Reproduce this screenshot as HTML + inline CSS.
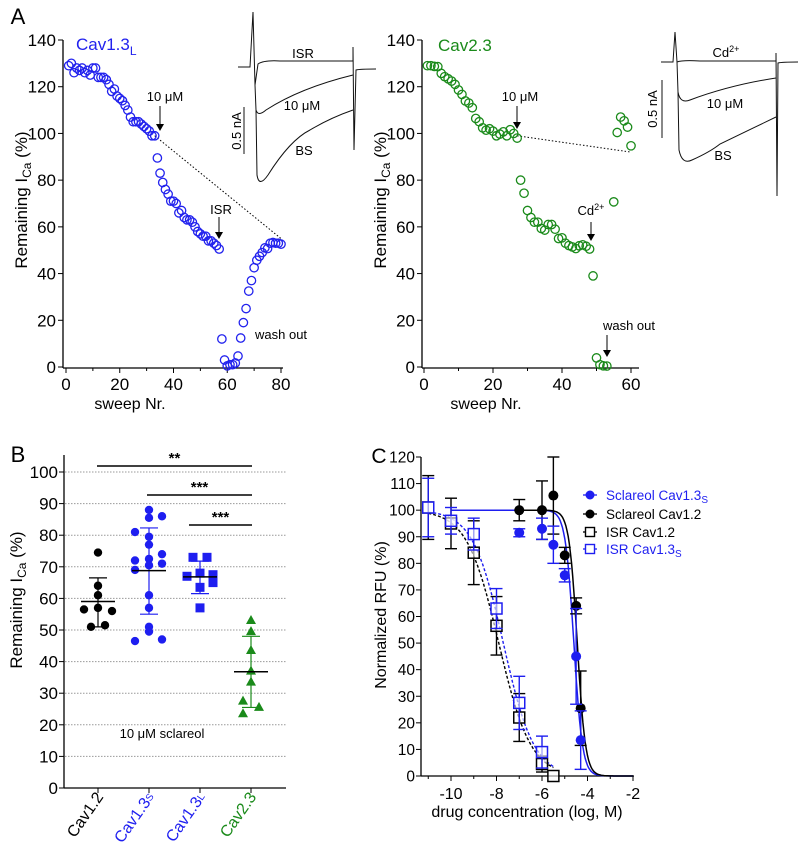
<!DOCTYPE html>
<html><head><meta charset="utf-8"><style>
html,body{margin:0;padding:0;background:#fff}
svg{display:block;font-family:"Liberation Sans",Arial,sans-serif}
</style></head><body>
<svg id="fig" width="800" height="846" viewBox="0 0 800 846" xmlns="http://www.w3.org/2000/svg">
<g id="g"></g>
</svg>
<script>
// ---------- DATA ----------
const aLeftSweeps = [1,2,3,4,5,6,7,8,9,10,11,12,13,14,15,16,17,18,19,20,21,22,23,24,25,26,27,28,29,30,31,32,33,34,35,36,37,38,39,40,41,42,43,44,45,46,47,48,49,50,51,52,53,54,55,56,57,58,59,60,61,62,63,64,65,66,67,68,69,70,71,72,73,74,75,76,77,78,79,80];
const aLeftValues = [129,130,126,128,127,128,126,127,125,128,128,124,124,124,123,121,118,119,116,115,114,112,110,107,105,105,105,104,103,102,101,99,99,89.5,83,79,76,74,71,71,70,66,67,64,63,63,62,60,58,57,56,56,54,54,53,52,50.5,12,3,0.5,1,1,1.7,4.7,12.4,19,25,32.5,37,42.5,45.7,47.4,49,51,50.7,53,53.3,53,53,52.6];
const aRightSweeps = [1,2,3,4,5,6,7,8,9,10,11,12,13,14,15,16,17,18,19,20,21,22,23,24,25,26,27,28,29,30,31,32,33,34,35,36,37,38,39,40,41,42,43,44,45,46,47,48,49,50,51,52,53,55,56,57,58,59,60];
const aRightValues = [129,129,128.7,128.6,125.7,124.3,123.4,122.4,121,118.6,116.7,113.9,113,111,106.4,105,102.4,101.4,102,101,99,99.7,100.7,99,101.6,100,98,80,74.4,67,64,62,62,59.3,58.6,61,61,59,55,55.3,53,52,51.4,50.7,51.9,52.3,51.7,50.5,39,3.9,1,0.5,0.4,70.7,100.4,107,105.4,102.7,94.7];

const bCategories = ["Cav1.2","Cav1.3S","Cav1.3L","Cav2.3"];
const bCav12 = [74.5,64,61,56.5,57,56,51,51.5];
const bCav13S = [88,85.5,86,81,79.5,77,74,72.5,72,71,70.5,69,61,57,51,49.5,47,46.5];
const bCav13L = [73,73,68,67,67.5,65,63.5,57];
const bCav23 = [53,49.5,43.5,37,33.5,27.5,25.5,23.5];
const bMeans = [59,68.8,66.8,36.8];
const bLow = [51,55,61.5,25.5];
const bHigh = [66.5,82.3,71.8,48];

const cSclX = [-7,-6,-5.5,-5,-4.5,-4.3];
const cScl13 = [91.5,93,87,75.5,45,13.5];
const cScl13Err = [1.5,4,7,2.5,18,11];
const cScl12 = [100,100,105.5,83,64,25.5];
const cScl12Err = [4,11,14.5,3,3,14];
const cIsrX12 = [-11,-10,-9,-8,-7,-6,-5.5];
const cIsr12 = [101,95,84,56.5,22,4.5,0];
const cIsr12Err = [12,9.5,12,11,9,3,0];
const cIsrX13 = [-11,-10,-9,-8,-7,-6];
const cIsr13 = [101,96,91,63,27.5,9];
const cIsr13Err = [11,5,6,7.5,10,6];
const cFitIC50 = [-4.6,-4.45,-7.9,-7.7];
const cFitHill = [2.3,2.4,0.62,0.65];

// ---------- HELPERS ----------
const NS="http://www.w3.org/2000/svg";
const G=document.getElementById('g');
function el(tag,attrs,parent){const e=document.createElementNS(NS,tag);for(const k in attrs)e.setAttribute(k,attrs[k]);(parent||G).appendChild(e);return e;}
function txt(x,y,s,size,fill,anchor,parent,extra){const t=el('text',Object.assign({x:x,y:y,'font-size':size,fill:fill||'#000','text-anchor':anchor||'middle'},extra||{}),parent);t.innerHTML=s;return t;}

// ---------- PANEL A LEFT ----------
const aL=el('g',{});


const axL={x0:66,x1:281,y0:367,y1:40};
const xL=v=>axL.x0+(v/80)*(axL.x1-axL.x0);
const yA=v=>axL.y0-(v/140)*(axL.y0-axL.y1);
el('line',{x1:63,y1:40,x2:63,y2:368,stroke:'#000','stroke-width':1.3},aL);
el('line',{x1:63,y1:368,x2:283,y2:368,stroke:'#000','stroke-width':1.3},aL);
[0,20,40,60,80,100,120,140].forEach(v=>{el('line',{x1:58,x2:63,y1:yA(v),y2:yA(v),stroke:'#000'},aL);txt(56,yA(v)+6,v,17,'#000','end',aL);});
[0,20,40,60,80].forEach(v=>{el('line',{x1:xL(v),x2:xL(v),y1:368,y2:373,stroke:'#000'},aL);txt(xL(v),390,v,17,'#000','middle',aL);});
[10,30,50,70].forEach(v=>el('line',{x1:xL(v),x2:xL(v),y1:368,y2:371,stroke:'#000'},aL));
txt(130,409,'sweep Nr.',16,'#000','middle',aL);
txt(0,0,'Remaining I<tspan font-size="12" dy="4">Ca</tspan><tspan dy="-4"> (%)</tspan>',17,'#000','middle',aL,{transform:'translate(27,200) rotate(-90)'});
txt(76,50,'Cav1.3<tspan font-size="12" dy="5">L</tspan>',17,'#2222ee','start',aL);
el('line',{x1:xL(33),y1:yA(99),x2:xL(80),y2:yA(55),stroke:'#000','stroke-dasharray':'1.5,2','stroke-width':1},aL);
aLeftSweeps.forEach((s,i)=>{const c=el('circle',{cx:xL(s),cy:yA(aLeftValues[i]),r:4.2,fill:'none',stroke:'#2222ee','stroke-width':1.3},aL);});
txt(165,101,'10 μM',13,'#000','middle',aL);
el('line',{x1:160,y1:106,x2:160,y2:126,stroke:'#000'},aL);el('path',{d:'M156,124 L160,131 L164,124Z',fill:'#000'},aL);
txt(221,214,'ISR',13,'#000','middle',aL);
el('line',{x1:219,y1:217,x2:219,y2:234,stroke:'#000'},aL);el('path',{d:'M215,232 L219,239 L223,232Z',fill:'#000'},aL);
txt(255,339,'wash out',13,'#000','start',aL);
// inset left
const inL=el('g',{fill:'none',stroke:'#111','stroke-width':1},aL);

el('path',{d:'M238,67 L250,67 L253,12 L255,85 L258,64 Q264,60 280,61 L353,61'},inL);
el('path',{d:'M255,85 L256,110 Q258,117 266,110 Q300,88 353,75'},inL);
el('path',{d:'M256,110 L257,175 Q259,188 268,175 Q290,140 310,130 Q330,118 353,110'},inL);
el('path',{d:'M353,61 L353,47 L354,150 L356,70 Q360,69 376,69'},inL);
el('line',{x1:244,y1:107,x2:244,y2:154},inL);
txt(0,0,'0.5 nA',13,'#000','middle',aL,{transform:'translate(241,131) rotate(-90)'});
txt(303,58,'ISR',13,'#000','middle',aL);txt(302,110,'10 μM',13,'#000','middle',aL);txt(304,155,'BS',13,'#000','middle',aL);

// ---------- PANEL A RIGHT ----------
const aR=el('g',{});


const xR=v=>424+(v/60)*(631-424);
el('line',{x1:422,y1:40,x2:422,y2:368,stroke:'#000','stroke-width':1.3},aR);
el('line',{x1:422,y1:368,x2:639,y2:368,stroke:'#000','stroke-width':1.3},aR);
[0,20,40,60,80,100,120,140].forEach(v=>{el('line',{x1:417,x2:422,y1:yA(v),y2:yA(v),stroke:'#000'},aR);txt(415,yA(v)+6,v,17,'#000','end',aR);});
[0,20,40,60].forEach(v=>{el('line',{x1:xR(v),x2:xR(v),y1:368,y2:373,stroke:'#000'},aR);txt(xR(v),390,v,17,'#000','middle',aR);});
[10,30,50].forEach(v=>el('line',{x1:xR(v),x2:xR(v),y1:368,y2:371,stroke:'#000'},aR));
txt(486,409,'sweep Nr.',16,'#000','middle',aR);
txt(0,0,'Remaining I<tspan font-size="12" dy="4">Ca</tspan><tspan dy="-4"> (%)</tspan>',17,'#000','middle',aR,{transform:'translate(386,200) rotate(-90)'});
txt(438,51,'Cav2.3',17,'#1a8a1a','start',aR);
el('line',{x1:xR(27),y1:yA(99),x2:xR(60),y2:yA(92),stroke:'#000','stroke-dasharray':'1.5,2'},aR);
aRightSweeps.forEach((s,i)=>{const c=el('circle',{cx:xR(s),cy:yA(aRightValues[i]),r:4.2,fill:'none',stroke:'#1a8a1a','stroke-width':1.3},aR);});
txt(520,101,'10 μM',13,'#000','middle',aR);
el('line',{x1:517,y1:106,x2:517,y2:124,stroke:'#000'},aR);el('path',{d:'M513,122 L517,129 L521,122Z',fill:'#000'},aR);
txt(591,215,'Cd<tspan font-size="9" dy="-5">2+</tspan>',13,'#000','middle',aR);
el('line',{x1:591,y1:222,x2:591,y2:236,stroke:'#000'},aR);el('path',{d:'M587,234 L591,241 L595,234Z',fill:'#000'},aR);
txt(629,330,'wash out',13,'#000','middle',aR);
el('line',{x1:607,y1:335,x2:607,y2:352,stroke:'#000'},aR);el('path',{d:'M603,350 L607,357 L611,350Z',fill:'#000'},aR);
const inR=el('g',{fill:'none',stroke:'#111','stroke-width':1},aR);

el('path',{d:'M661,62 L673,62 L675,32 L677,62 Q682,60 700,61 L776,61'},inR);
el('path',{d:'M677,62 L678,92 Q680,104 690,100 Q730,85 776,78'},inR);
el('path',{d:'M678,92 L679,150 Q682,165 692,160 Q710,152 720,144 Q745,132 776,117'},inR);
el('path',{d:'M776,61 L776,53 L777,196 L778,63 Q782,62 798,62'},inR);
el('line',{x1:662,y1:80,x2:662,y2:138},inR);
txt(0,0,'0.5 nA',13,'#000','middle',aR,{transform:'translate(657,109) rotate(-90)'});
txt(726,57,'Cd<tspan font-size="9" dy="-5">2+</tspan>',13,'#000','middle',aR);txt(725,108,'10 μM',13,'#000','middle',aR);txt(723,160,'BS',13,'#000','middle',aR);

txt(18,24,'A',22,'#000','middle');

// ---------- PANEL B ----------
const pB=el('g',{});


const yB=v=>788-(v/100)*(788-472);
const catX=[98,149,200,251];
const catCol=['#000','#1e1ef0','#1e1ef0','#1a8a1a'];
el('line',{x1:64,y1:455,x2:64,y2:788,stroke:'#000','stroke-width':1.3},pB);
el('line',{x1:64,y1:788,x2:286,y2:788,stroke:'#000','stroke-width':1.3},pB);
for(let v=0;v<=100;v+=10){if(v>0)el('line',{x1:65,x2:286,y1:yB(v),y2:yB(v),stroke:'#999','stroke-dasharray':'1.5,1.5','stroke-width':1},pB);el('line',{x1:59,x2:64,y1:yB(v),y2:yB(v),stroke:'#000'},pB);txt(58,yB(v)+6,v,17,'#000','end',pB);}
catX.forEach(x=>el('line',{x1:x,x2:x,y1:788,y2:793,stroke:'#000'},pB));
txt(0,0,'Remaining I<tspan font-size="12" dy="4">Ca</tspan><tspan dy="-4"> (%)</tspan>',17,'#000','middle',pB,{transform:'translate(22,600) rotate(-90)'});
txt(162,738,'10 μM sclareol',13,'#000','middle',pB);
bCategories.forEach((c,i)=>{const base=c.replace(/[SL]$/,'');const s=c.length>6?c.slice(6):'';txt(0,0,base+(s?'<tspan font-size="10" dy="-1">'+s+'</tspan>':''),16,catCol[i],'end',pB,{transform:'translate('+(catX[i]+6)+',797) rotate(-55)'});});
const bSets=[bCav12,bCav13S,bCav13L,bCav23];
const offs=[[0,0,0,-14,0,14,-7,7],[0,0,13,-14,0,0,13,0,-14,13,0,-14,0,0,0,0,13,-14],[-7,7,0,-13,13,13,0,0],[0,0,0,0,0,-8,8,-8]];
bSets.forEach((vals,i)=>{vals.forEach((v,j)=>{const x=catX[i]+offs[i][j];const y=yB(v);let m;
 if(i<2)m=el('circle',{cx:x,cy:y,r:4.2,fill:catCol[i]},pB);
 else if(i==2)m=el('rect',{x:x-4.5,y:y-4.5,width:9,height:9,fill:catCol[i]},pB);
 else m=el('path',{d:`M${x},${y-5.5} L${x+5},${y+3.5} L${x-5},${y+3.5}Z`,fill:catCol[i]},pB);
 
 });});
bMeans.forEach((m,i)=>{const x=catX[i],ec=catCol[i];
 el('line',{x1:x,x2:x,y1:yB(bHigh[i]),y2:yB(bLow[i]),stroke:ec,'stroke-width':1.2},pB);
 el('line',{x1:x-9,x2:x+9,y1:yB(bHigh[i]),y2:yB(bHigh[i]),stroke:ec,'stroke-width':1.2},pB);
 el('line',{x1:x-9,x2:x+9,y1:yB(bLow[i]),y2:yB(bLow[i]),stroke:ec,'stroke-width':1.2},pB);
 el('line',{x1:x-17,x2:x+17,y1:yB(m),y2:yB(m),stroke:'#000','stroke-width':1.5},pB);});
[[97,466,'**'],[147,495,'***'],[189,525,'***']].forEach(s=>{el('line',{x1:s[0],x2:252,y1:s[1],y2:s[1],stroke:'#000','stroke-width':1.5},pB);txt((s[0]+252)/2,s[1]-3,s[2],15,'#000','middle',pB,{'font-weight':'bold'});});
txt(18,462,'B',22,'#000','middle');

// ---------- PANEL C ----------
const pC=el('g',{});


const xC=v=>451+(v+10)*((633-451)/8);
const yC=v=>776-(v/120)*(776-457);
el('line',{x1:421,y1:457,x2:421,y2:776,stroke:'#000','stroke-width':1.3},pC);
el('line',{x1:421,y1:776,x2:634,y2:776,stroke:'#000','stroke-width':1.3},pC);
for(let v=0;v<=120;v+=10){el('line',{x1:416,x2:421,y1:yC(v),y2:yC(v),stroke:'#000'},pC);txt(415,yC(v)+5.5,v,15.5,'#000','end',pC);}
for(let v=-11;v<=-2;v++){el('line',{x1:xC(v),x2:xC(v),y1:776,y2:v%2==0?781:779,stroke:'#000'},pC);if(v%2==0)txt(xC(v),799,'-'+(-v),16,'#000','middle',pC);}
txt(527,817,'drug concentration (log, M)',16,'#000','middle',pC);
txt(0,0,'Normalized RFU (%)',16,'#000','middle',pC,{transform:'translate(386,615) rotate(-90)'});
function fitPath(ic,h,x0,x1){let d='';for(let x=x0;x<=x1+1e-9;x+=0.05){const y=100/(1+Math.pow(10,(x-ic)*h));d+=(d?'L':'M')+xC(x).toFixed(1)+','+yC(y).toFixed(1);}return d;}
el('path',{d:fitPath(cFitIC50[0],cFitHill[0],-10,-2),fill:'none',stroke:'#1e1ef0','stroke-width':1.5},pC);
el('path',{d:fitPath(cFitIC50[1],cFitHill[1],-7,-2),fill:'none',stroke:'#000','stroke-width':1.5},pC);
el('path',{d:fitPath(cFitIC50[2],cFitHill[2],-11,-5.5),fill:'none',stroke:'#000','stroke-width':1.4,'stroke-dasharray':'3,2'},pC);
el('path',{d:fitPath(cFitIC50[3],cFitHill[3],-11,-5.5),fill:'none',stroke:'#1e1ef0','stroke-width':1.4,'stroke-dasharray':'3,2'},pC);
function errbar(x,v,e,col){if(!e)return;el('line',{x1:xC(x),x2:xC(x),y1:yC(v+e),y2:yC(v-e),stroke:col,'stroke-width':1.4},pC);[v+e,v-e].forEach(y=>el('line',{x1:xC(x)-6,x2:xC(x)+6,y1:yC(y),y2:yC(y),stroke:col,'stroke-width':1.4},pC));}
function series(xs,vs,es,col,shape,name){xs.forEach((x,i)=>{errbar(x,vs[i],es[i],col);let m;
 if(shape=='c')m=el('circle',{cx:xC(x),cy:yC(vs[i]),r:5,fill:col},pC);
 else m=el('rect',{x:xC(x)-5.5,y:yC(vs[i])-5.5,width:11,height:11,fill:'#fff','fill-opacity':0.6,stroke:col,'stroke-width':1.5},pC);
 });}
series(cIsrX12,cIsr12,cIsr12Err,'#000','s','point-isr-cav12');
series(cIsrX13,cIsr13,cIsr13Err,'#1e1ef0','s','point-isr-cav13s');
series(cSclX,cScl12,cScl12Err,'#000','c','point-sclareol-cav12');
series(cSclX,cScl13,cScl13Err,'#1e1ef0','c','point-sclareol-cav13s');
const lg=el('g',{},pC);

[['Sclareol Cav1.3','S','#1e1ef0','c',495],['Sclareol Cav1.2','','#000','c',514],['ISR Cav1.2','','#000','s',532],['ISR Cav1.3','S','#1e1ef0','s',549]].forEach(l=>{
 const x=590,y=l[4];el('line',{x1:x-7,x2:x+7,y1:y,y2:y,stroke:l[2],'stroke-width':1.3},lg);
 if(l[3]=='c')el('circle',{cx:x,cy:y,r:4.5,fill:l[2]},lg);else el('rect',{x:x-4.5,y:y-4.5,width:9,height:9,fill:'#fff',stroke:l[2],'stroke-width':1.4},lg);
 txt(x+16,y+5,l[0]+(l[1]?'<tspan font-size="10" dy="3">'+l[1]+'</tspan>':''),13.5,l[2],'start',lg);});
txt(379,463,'C',21,'#000','middle');
</script>
</body></html>
